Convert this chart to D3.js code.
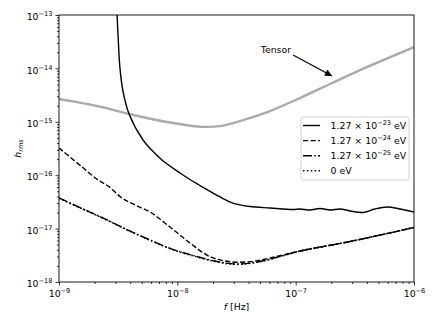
<!DOCTYPE html>
<html>
<head>
<meta charset="utf-8">
<script src="https://cdn.jsdelivr.net/npm/d3@7"></script>
<style>
    body { margin: 0; background: #fff; }
    text { font-family: "DejaVu Sans", sans-serif; fill: #000; }
</style>
</head>
<body>
<div id="root"></div>
<script>
"use strict";

/* ************************************* Data ******************************** */

// Frequencies are kept as log10(f / Hz), strain values as h_rms
const tensorLogF = [-9.0, -8.653, -8.408, -8.087, -7.808, -7.639, -7.411, -7.217, -6.963, -6.710, -6.456, -6.0];
const tensorH = [2.67e-15, 1.92e-15, 1.40e-15, 9.9e-16, 8.1e-16, 8.3e-16, 1.13e-15, 1.59e-15, 2.79e-15, 5.1e-15, 9.3e-15, 2.5e-14];

const solidLogF = [-8.512, -8.509, -8.499, -8.485, -8.459, -8.408, -8.290, -8.217, -8.130, -7.977, -7.893, -7.808, -7.639,
    -7.530, -7.386, -7.217, -7.022, -6.964, -6.879, -6.794, -6.710, -6.625, -6.541, -6.431, -6.330, -6.228, -6.118, -6.0];
const solidH = [2e-13, 1.0e-13, 3.4e-14, 1.02e-14, 3.7e-15, 1.40e-15, 4.56e-16, 2.96e-16, 1.93e-16, 1.10e-16, 8.3e-17, 6.4e-17, 3.91e-17,
    3.01e-17, 2.59e-17, 2.43e-17, 2.28e-17, 2.33e-17, 2.23e-17, 2.38e-17, 2.23e-17, 2.33e-17, 2.14e-17, 2.00e-17, 2.33e-17, 2.54e-17, 2.33e-17, 2.05e-17];

const dashedLogF = [-9.0, -8.806, -8.670, -8.586, -8.468, -8.358, -8.231, -8.062, -7.893, -7.724, -7.555, -7.386, -7.217, -6.963, -6.541, -6.0];
const dashedH = [3.23e-16, 1.43e-16, 8.13e-17, 6.28e-17, 3.74e-17, 2.77e-17, 2.05e-17, 1.07e-17, 5.37e-18, 2.98e-18, 2.40e-18, 2.40e-18, 2.81e-18, 3.81e-18, 5.73e-18, 1.05e-17];

const dashDotLogF = [-9.0, -8.797, -8.594, -8.400, -8.231, -8.037, -7.851, -7.665, -7.496, -7.301, -7.132, -6.963, -6.541, -6.0];
const dashDotH = [3.74e-17, 2.33e-17, 1.45e-17, 9.0e-18, 6.12e-18, 4.07e-18, 3.07e-18, 2.42e-18, 2.17e-18, 2.42e-18, 3.01e-18, 3.81e-18, 5.73e-18, 1.05e-17];

const dottedLogF = [-9.0, -8.797, -8.594, -8.400, -8.231, -8.037, -7.851, -7.665, -7.496, -7.301, -7.132, -6.963, -6.541, -6.0];
const dottedH = [3.70e-17, 2.31e-17, 1.44e-17, 8.9e-18, 6.05e-18, 4.02e-18, 3.02e-18, 2.38e-18, 2.14e-18, 2.40e-18, 3.00e-18, 3.80e-18, 5.72e-18, 1.05e-17];

const legendLabels = [
    {mant: "1.27 × 10", exp: "−23", unit: " eV"},
    {mant: "1.27 × 10", exp: "−24", unit: " eV"},
    {mant: "1.27 × 10", exp: "−25", unit: " eV"},
    {mant: "0 eV", exp: "", unit: ""}
];

const xTickExps = [-9, -8, -7, -6];
const yTickExps = [-18, -17, -16, -15, -14, -13];

/* ************************************* Set up ******************************** */

const width = 436;
const height = 327;

const margin = {
    top: 15,
    right: 22,
    bottom: 45,
    left: 59
};

let drawWidth = width - margin.left - margin.right;
let drawHeight = height - margin.top - margin.bottom;

const fontSize = 9.4;
const supSize = 6.6;

let svg = d3.select('#root')
    .append('svg')
    .attr('width', width)
    .attr('height', height);

let chartG = svg.append('g')
    .attr('transform', 'translate(' + margin.left + ',' + margin.top + ')');

svg.append('defs').append('clipPath')
    .attr('id', 'plot-clip')
    .append('rect')
    .attr('width', drawWidth)
    .attr('height', drawHeight);

/* ************************************* Scales ******************************** */

let xScale = d3.scaleLog()
    .domain([1e-9, 1e-6])
    .range([0, drawWidth]);

let yScale = d3.scaleLog()
    .domain([1e-18, 1e-13])
    .range([drawHeight, 0]);

// minor ticks at 2..9 x each decade
function minorTicks(lo, hi) {
    let out = [];
    for (let e = lo; e < hi; e++) {
        for (let m = 2; m <= 9; m++) out.push(m * Math.pow(10, e));
    }
    return out;
}

/* ************************************* Axes ******************************** */

function supLabel(sel, exp) {
    sel.text(null);
    sel.append('tspan').text('10');
    sel.append('tspan').attr('dy', -4).attr('font-size', supSize).text('−' + Math.abs(exp));
}

let xAxisG = chartG.append('g')
    .attr('transform', 'translate(0,' + drawHeight + ')')
    .call(d3.axisBottom(xScale).tickValues(minorTicks(-9, -6)).tickSize(2).tickSizeOuter(0).tickFormat(''));

let xAxisMajor = chartG.append('g')
    .attr('transform', 'translate(0,' + drawHeight + ')')
    .call(d3.axisBottom(xScale)
        .tickValues(xTickExps.map((e) => Math.pow(10, e)))
        .tickSize(3.5).tickSizeOuter(0).tickPadding(4.5));

xAxisMajor.selectAll('.tick text')
    .attr('font-size', fontSize)
    .each(function (d, i) { supLabel(d3.select(this), xTickExps[i]); });

let yAxisG = chartG.append('g')
    .call(d3.axisLeft(yScale).tickValues(minorTicks(-18, -13)).tickSize(2).tickSizeOuter(0).tickFormat(''));

let yAxisMajor = chartG.append('g')
    .call(d3.axisLeft(yScale)
        .tickValues(yTickExps.map((e) => Math.pow(10, e)))
        .tickSize(3.5).tickSizeOuter(0).tickPadding(3));

yAxisMajor.selectAll('.tick text')
    .attr('font-size', fontSize)
    .attr('dy', '0.5em')
    .each(function (d, i) { supLabel(d3.select(this), yTickExps[i]); });

chartG.selectAll('.domain').remove();
chartG.selectAll('.tick line').attr('stroke', '#000').attr('stroke-width', 0.8);

/* ************************************* Lines ******************************** */

let line = d3.line()
    .x((d) => xScale(d.f))
    .y((d) => yScale(d.h))
    .curve(d3.curveCatmullRom.alpha(0.5));

function pts(logF, h) {
    return logF.map((v, i) => ({f: Math.pow(10, v), h: h[i]}));
}

const series = [
    {data: pts(tensorLogF, tensorH), color: '#aaaaaa', lw: 2.4, dash: null},
    {data: pts(dottedLogF, dottedH), color: '#000', lw: 1.6, dash: '1.5,2.4'},
    {data: pts(dashDotLogF, dashDotH), color: '#000', lw: 1.4, dash: '9,2.3,1.4,2.3'},
    {data: pts(dashedLogF, dashedH), color: '#000', lw: 1.4, dash: '5.2,2.3'},
    {data: pts(solidLogF, solidH), color: '#000', lw: 1.4, dash: null}
];

let linesG = chartG.append('g').attr('clip-path', 'url(#plot-clip)');

linesG.selectAll('path')
    .data(series)
    .enter().append('path')
    .attr('d', (d) => line(d.data))
    .attr('fill', 'none')
    .attr('stroke', (d) => d.color)
    .attr('stroke-width', (d) => d.lw)
    .attr('stroke-dasharray', (d) => d.dash);

// axes frame
chartG.append('rect')
    .attr('width', drawWidth)
    .attr('height', drawHeight)
    .attr('fill', 'none')
    .attr('stroke', '#000')
    .attr('stroke-width', 0.9);

/* ************************************* Annotation ******************************** */

const arrowFrom = {f: Math.pow(10, -7.022), h: Math.pow(10, -13.749)};
const arrowTo = {f: Math.pow(10, -6.693), h: Math.pow(10, -14.142)};

svg.select('defs').append('marker')
    .attr('id', 'arrowhead')
    .attr('viewBox', '0 0 10 10')
    .attr('refX', 10).attr('refY', 5)
    .attr('markerWidth', 10).attr('markerHeight', 7)
    .attr('markerUnits', 'userSpaceOnUse')
    .attr('orient', 'auto')
    .append('path')
    .attr('d', 'M0,0 L10,5 L0,10 Z')
    .attr('fill', '#000');

chartG.append('line')
    .attr('x1', xScale(arrowFrom.f)).attr('y1', yScale(arrowFrom.h))
    .attr('x2', xScale(arrowTo.f)).attr('y2', yScale(arrowTo.h))
    .attr('stroke', '#000')
    .attr('stroke-width', 1.2)
    .attr('marker-end', 'url(#arrowhead)');

chartG.append('text')
    .attr('x', xScale(Math.pow(10, -7.295)))
    .attr('y', yScale(Math.pow(10, -13.712)))
    .attr('font-size', fontSize)
    .text('Tensor');

/* ************************************* Axis labels ******************************** */

let xLabel = svg.append('text')
    .attr('x', margin.left + drawWidth / 2)
    .attr('y', 310)
    .attr('text-anchor', 'middle')
    .attr('font-size', fontSize);
xLabel.append('tspan').attr('font-style', 'italic').text('f');
xLabel.append('tspan').text(' [Hz]');

let yLabel = svg.append('text')
    .attr('transform', 'translate(21,' + (margin.top + drawHeight / 2) + ') rotate(-90)')
    .attr('text-anchor', 'middle')
    .attr('font-size', fontSize);
yLabel.append('tspan').attr('font-style', 'italic').text('h');
yLabel.append('tspan').attr('font-style', 'italic').attr('font-size', supSize).attr('dy', 2).text('rms');

/* ************************************* Legend ******************************** */

const legendDash = [null, '5.2,2.3', '9,2.3,1.4,2.3', '1.5,2.4'];

let legendG = svg.append('g').attr('transform', 'translate(301,117)');

legendG.append('rect')
    .attr('width', 108)
    .attr('height', 63)
    .attr('rx', 2.5)
    .attr('fill', '#fff')
    .attr('fill-opacity', 0.8)
    .attr('stroke', '#cccccc')
    .attr('stroke-width', 0.9);

let rows = legendG.selectAll('g.row')
    .data(legendLabels)
    .enter().append('g')
    .attr('class', 'row')
    .attr('transform', (d, i) => 'translate(0,' + (8.5 + i * 15.1) + ')');

rows.append('line')
    .attr('x1', 2).attr('x2', 19)
    .attr('stroke', '#000')
    .attr('stroke-width', (d, i) => i === 3 ? 1.6 : 1.4)
    .attr('stroke-dasharray', (d, i) => legendDash[i]);

rows.append('text')
    .attr('x', 29.5)
    .attr('dy', '0.35em')
    .attr('font-size', fontSize)
    .each(function (d) {
        let t = d3.select(this);
        t.append('tspan').text(d.mant);
        if (d.exp) {
            t.append('tspan').attr('dy', -4).attr('font-size', supSize).text(d.exp);
            t.append('tspan').attr('dy', 4).text(d.unit);
        }
    });
</script>
</body>
</html>
